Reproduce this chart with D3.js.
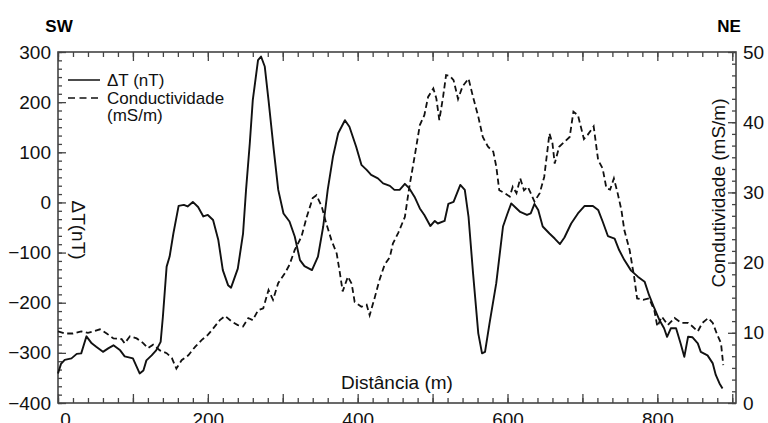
<!DOCTYPE html>
<html>
<head>
<meta charset="utf-8">
<script src="https://cdn.jsdelivr.net/npm/d3@7"></script>
<style>
  body { margin: 0; background: #fff; }
  svg { display: block; font-family: "Liberation Sans", Arial, sans-serif; }
</style>
</head>
<body>
<div id="chart"></div>
<script>
// Perfil SW-NE: anomalia magnética (ΔT) e condutividade
const magDist = [0, 4, 9, 18, 25, 31, 38, 45, 51, 60, 67, 74, 83, 89, 100, 109, 114, 118, 125, 131, 137, 140, 145, 149, 154, 161, 168, 173, 180, 187, 194, 200, 207, 214, 220, 227, 231, 240, 247, 251, 256, 260, 267, 271, 276, 281, 288, 294, 301, 309, 316, 323, 329, 339, 347, 354, 360, 367, 374, 383, 389, 398, 405, 412, 418, 427, 434, 443, 449, 456, 463, 469, 476, 483, 489, 497, 503, 507, 516, 521, 528, 537, 543, 548, 554, 561, 566, 570, 576, 585, 594, 600, 605, 610, 617, 626, 631, 636, 641, 647, 656, 663, 670, 676, 685, 694, 703, 714, 721, 727, 734, 743, 749, 756, 765, 774, 783, 789, 796, 803, 809, 813, 818, 825, 831, 836, 841, 847, 854, 858, 867, 874, 878, 883, 887]
const magT = [-341, -322, -314, -311, -302, -301, -267, -281, -288, -298, -291, -285, -295, -307, -311, -341, -335, -315, -305, -295, -278, -228, -128, -108, -62, -7, -5, -8, 1, -9, -28, -25, -35, -75, -135, -165, -170, -132, -62, 25, 118, 204, 284, 291, 271, 204, 105, 25, -22, -38, -68, -115, -127, -135, -108, -48, 25, 91, 138, 164, 151, 111, 75, 65, 55, 48, 38, 33, 25, 25, 37, 28, 11, -12, -25, -47, -37, -42, -37, -3, 1, 35, 25, -29, -141, -261, -301, -298, -241, -161, -48, -22, -2, -9, -19, -25, -22, -3, -15, -48, -62, -72, -83, -70, -42, -22, -7, -7, -15, -38, -67, -72, -95, -115, -136, -148, -158, -185, -211, -235, -251, -268, -251, -251, -281, -308, -268, -269, -281, -298, -305, -321, -344, -361, -371]

const condDist = [0, 9, 20, 31, 40, 47, 56, 65, 74, 85, 89, 96, 105, 114, 120, 127, 136, 145, 152, 158, 165, 174, 183, 192, 200, 207, 216, 223, 232, 240, 247, 254, 260, 267, 274, 281, 287, 294, 303, 309, 316, 325, 332, 340, 345, 352, 358, 365, 372, 376, 380, 387, 392, 396, 405, 412, 416, 423, 429, 436, 443, 447, 454, 463, 469, 476, 483, 489, 494, 501, 505, 509, 514, 518, 523, 528, 534, 540, 548, 554, 561, 567, 574, 581, 585, 589, 596, 603, 607, 612, 617, 622, 627, 631, 636, 643, 649, 656, 660, 663, 669, 676, 683, 688, 694, 702, 707, 715, 721, 727, 732, 737, 742, 747, 752, 756, 763, 769, 773, 781, 789, 796, 800, 806, 814, 823, 832, 841, 847, 854, 860, 868, 874, 880, 885, 888]
const condVal = [10.2, 9.9, 9.9, 10.2, 10.0, 10.2, 10.5, 9.9, 9.2, 9.1, 8.5, 9.5, 9.2, 8.5, 7.8, 8.3, 7.5, 7.1, 6.4, 4.9, 6.1, 6.8, 8.0, 9.0, 9.7, 10.6, 11.8, 12.4, 11.6, 11.1, 10.9, 12.1, 11.8, 13.2, 13.5, 16.1, 14.7, 17.1, 18.5, 19.7, 21.8, 23.7, 26.5, 29.2, 29.6, 28.0, 25.6, 23.2, 21.3, 18.7, 15.9, 18.0, 17.0, 14.4, 13.7, 14.0, 12.5, 15.1, 17.5, 19.7, 20.8, 22.7, 24.2, 26.5, 30.8, 35.1, 39.6, 41.0, 43.6, 44.8, 43.4, 40.3, 43.6, 46.7, 46.6, 46.0, 43.3, 45.1, 46.2, 43.6, 40.8, 37.9, 36.5, 35.8, 33.7, 30.3, 29.9, 29.4, 30.8, 29.9, 32.0, 30.3, 30.8, 29.9, 28.7, 29.9, 32.2, 38.4, 37.0, 34.1, 36.5, 37.2, 37.9, 41.5, 41.0, 37.6, 38.2, 39.4, 34.6, 33.4, 30.6, 30.4, 32.0, 29.9, 27.5, 24.6, 21.8, 18.0, 14.9, 14.7, 14.9, 13.2, 10.9, 12.3, 11.1, 12.1, 11.4, 11.4, 10.9, 10.2, 11.4, 12.1, 11.4, 9.7, 8.5, 5.4]

const xTickLabels = [0, 200, 400, 600, 800]
const leftTickLabels = [-400, -300, -200, -100, 0, 100, 200, 300]
const rightTickLabels = [0, 10, 20, 30, 40, 50]

const width = 768, height = 423
const margin = { top: 52, right: 32, bottom: 20, left: 58 }
const axisColor = "#444"

const svg = d3.select("#chart").append("svg")
    .attr("width", width)
    .attr("height", height)

const x = d3.scaleLinear().domain([0, 905]).range([margin.left, width - margin.right])
const yL = d3.scaleLinear().domain([-400, 300]).range([height - margin.bottom, margin.top])
const yR = d3.scaleLinear().domain([0, 50]).range([height - margin.bottom, margin.top])

const x0 = margin.left, x1 = width - margin.right
const y0 = height - margin.bottom, y1 = margin.top

function styleAxis(g) {
    g.select(".domain").remove()
    g.selectAll(".tick line").attr("stroke", axisColor).attr("stroke-width", 1.3)
    g.selectAll(".tick text").attr("fill", "#111").style("font-size", "19px")
}

// bottom
svg.append("g").attr("transform", `translate(0,${y0})`)
    .call(d3.axisBottom(x).tickValues(d3.range(0, 901, 20)).tickSize(-5).tickFormat(""))
    .call(styleAxis)
const gxb = svg.append("g").attr("transform", `translate(0,${y0})`)
    .call(d3.axisBottom(x).tickValues(d3.range(0, 901, 100)).tickSize(-9).tickPadding(10)
        .tickFormat(d => xTickLabels.includes(d) ? d : ""))
    .call(styleAxis)
gxb.selectAll(".tick text").filter(d => d === 0).attr("dx", 7)

// top
svg.append("g").attr("transform", `translate(0,${y1})`)
    .call(d3.axisTop(x).tickValues(d3.range(0, 901, 20)).tickSize(-5).tickFormat(""))
    .call(styleAxis)
svg.append("g").attr("transform", `translate(0,${y1})`)
    .call(d3.axisTop(x).tickValues(d3.range(0, 901, 100)).tickSize(-9).tickFormat(""))
    .call(styleAxis)

// left
svg.append("g").attr("transform", `translate(${x0},0)`)
    .call(d3.axisLeft(yL).tickValues(d3.range(-400, 300.01, 100 / 6)).tickSize(-4).tickFormat(""))
    .call(styleAxis)
svg.append("g").attr("transform", `translate(${x0},0)`)
    .call(d3.axisLeft(yL).tickValues(leftTickLabels).tickSize(-8).tickPadding(7))
    .call(styleAxis)

// right
svg.append("g").attr("transform", `translate(${x1},0)`)
    .call(d3.axisRight(yR).tickValues(d3.range(0, 50.01, 10 / 6)).tickSize(-4).tickFormat(""))
    .call(styleAxis)
svg.append("g").attr("transform", `translate(${x1},0)`)
    .call(d3.axisRight(yR).tickValues(rightTickLabels).tickSize(-8).tickPadding(7))
    .call(styleAxis)

// frame
svg.append("rect")
    .attr("x", x0).attr("y", y1)
    .attr("width", x1 - x0).attr("height", y0 - y1)
    .attr("fill", "none").attr("stroke", axisColor).attr("stroke-width", 1.6)

// lines
const magLine = d3.line().x((d, i) => x(magDist[i])).y(d => yL(d))
const condLine = d3.line().x((d, i) => x(condDist[i])).y(d => yR(d))

svg.append("path").datum(condVal)
    .attr("d", condLine)
    .attr("fill", "none").attr("stroke", "#111").attr("stroke-width", 1.8)
    .attr("stroke-dasharray", "6,3.5")

svg.append("path").datum(magT)
    .attr("d", magLine)
    .attr("fill", "none").attr("stroke", "#111").attr("stroke-width", 1.9)
    .attr("stroke-linejoin", "round")

// labels
svg.append("text").attr("x", 59).attr("y", 32).attr("text-anchor", "middle")
    .style("font-size", "17px").style("font-weight", "bold").text("SW")
svg.append("text").attr("x", 729).attr("y", 32).attr("text-anchor", "middle")
    .style("font-size", "17px").style("font-weight", "bold").text("NE")

svg.append("text").attr("x", 397).attr("y", 389).attr("text-anchor", "middle")
    .style("font-size", "19px").attr("fill", "#111").text("Distância (m)")

svg.append("text").attr("transform", "translate(72,230) rotate(90)")
    .attr("text-anchor", "middle")
    .style("font-size", "19px").attr("fill", "#111").text("ΔT(nT)")

svg.append("text").attr("transform", "translate(725,193) rotate(-90)")
    .attr("text-anchor", "middle")
    .style("font-size", "19px").attr("fill", "#111").text("Condutividade (mS/m)")

// legend
const legend = svg.append("g").attr("fill", "#111").style("font-size", "17px")
legend.append("line").attr("x1", 68).attr("x2", 100).attr("y1", 80).attr("y2", 80)
    .attr("stroke", "#111").attr("stroke-width", 1.5)
legend.append("line").attr("x1", 68).attr("x2", 100).attr("y1", 98).attr("y2", 98)
    .attr("stroke", "#111").attr("stroke-width", 1.5).attr("stroke-dasharray", "7,4.5")
legend.append("text").attr("x", 107).attr("y", 86).text("ΔT (nT)")
legend.append("text").attr("x", 107).attr("y", 104).text("Conductividade")
legend.append("text").attr("x", 107).attr("y", 121).text("(mS/m)")
</script>
</body>
</html>
